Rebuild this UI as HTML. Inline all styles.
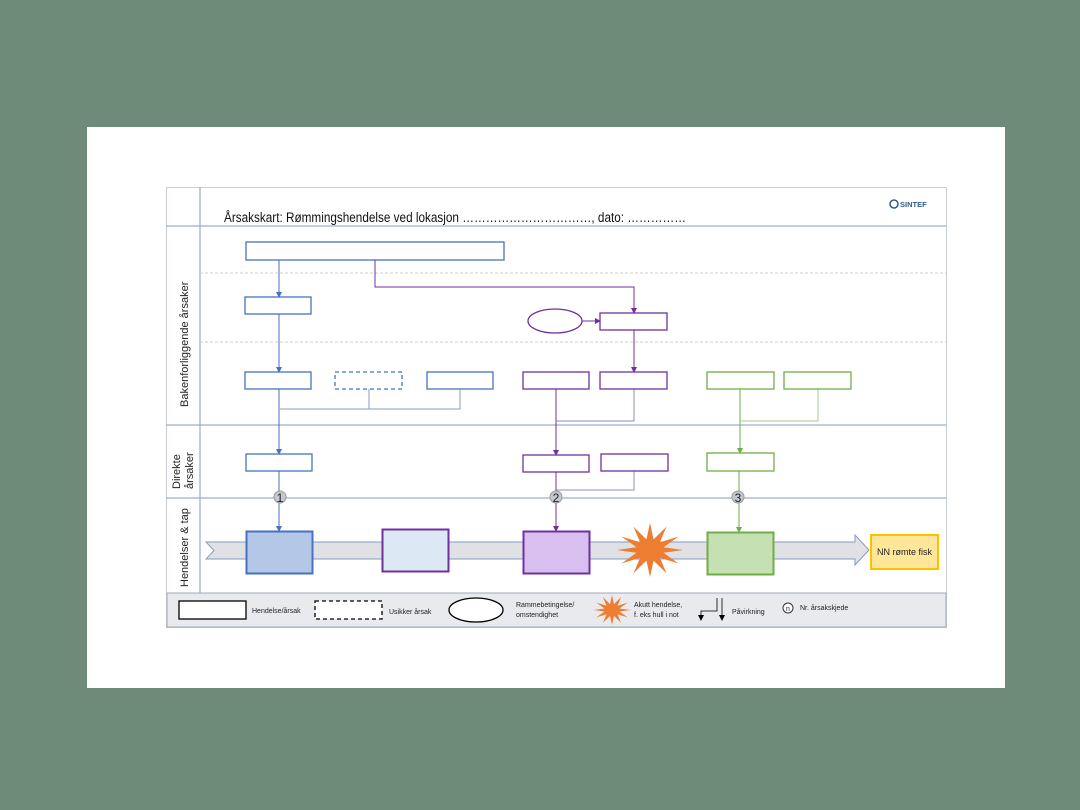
<!DOCTYPE html>
<html><head><meta charset="utf-8"><style>
html,body{margin:0;padding:0;background:#6e8b7a;}
svg{display:block;font-family:"Liberation Sans",sans-serif;}
</style></head><body>
<svg width="1080" height="810" viewBox="0 0 1080 810" xmlns="http://www.w3.org/2000/svg">
<defs>
<marker id="ab" markerWidth="6" markerHeight="6" refX="5" refY="3" orient="auto" markerUnits="userSpaceOnUse"><path d="M0,0 L6,3 L0,6z" fill="#4472c4"/></marker>
<marker id="ap" markerWidth="6" markerHeight="6" refX="5" refY="3" orient="auto" markerUnits="userSpaceOnUse"><path d="M0,0 L6,3 L0,6z" fill="#7030a0"/></marker>
<marker id="ag" markerWidth="6" markerHeight="6" refX="5" refY="3" orient="auto" markerUnits="userSpaceOnUse"><path d="M0,0 L6,3 L0,6z" fill="#70ad47"/></marker>
<marker id="ak" markerWidth="6" markerHeight="6" refX="5" refY="3" orient="auto" markerUnits="userSpaceOnUse"><path d="M0,0 L6,3 L0,6z" fill="#000"/></marker>
<g id="star"><polygon points="683,550 663.5,552.8 678.6,563.5 659.9,557.8 666.5,573.4 653.6,560.6 650,577 646.4,560.6 633.5,573.4 640.1,557.8 621.4,563.5 636.5,552.8 617,550 636.5,547.2 621.4,536.5 640.1,542.2 633.5,526.6 646.4,539.4 650,523 653.6,539.4 666.5,526.6 659.9,542.2 678.6,536.5 663.5,547.2" fill="#ed7d31"/></g>
</defs>
<rect x="87" y="127" width="918" height="561" fill="#fff"/>
<rect x="166.5" y="187.5" width="780" height="440" fill="#fff" stroke="#c8ccd4"/>
<line x1="200" y1="187" x2="200" y2="593" stroke="#8a9bc0"/>
<line x1="166" y1="226" x2="946" y2="226" stroke="#8a9bc0"/>
<line x1="200" y1="273" x2="946" y2="273" stroke="#c8ccd4" stroke-dasharray="3,2"/>
<line x1="200" y1="342" x2="946" y2="342" stroke="#c8ccd4" stroke-dasharray="3,2"/>
<line x1="166" y1="425" x2="946" y2="425" stroke="#8a9bc0"/>
<line x1="166" y1="498" x2="946" y2="498" stroke="#8a9bc0"/>
<text x="224" y="222" font-size="13.5" fill="#111" textLength="462" lengthAdjust="spacingAndGlyphs">Årsakskart: Rømmingshendelse ved lokasjon ……………………………, dato: ……………</text>
<circle cx="894" cy="204" r="4" fill="none" stroke="#2e5c8a" stroke-width="1.5"/>
<text x="900" y="207" font-size="7.5" font-weight="bold" fill="#2e5c8a">SINTEF</text>
<text transform="translate(188,407) rotate(-90)" font-size="11" fill="#222">Bakenforliggende årsaker</text>
<text transform="translate(180,489) rotate(-90)" font-size="11" fill="#222">Direkte</text>
<text transform="translate(193,489) rotate(-90)" font-size="11" fill="#222">årsaker</text>
<text transform="translate(188,587) rotate(-90)" font-size="11" fill="#222">Hendelser &amp; tap</text>
<polygon points="206,542 855,542 855,535 869,550 855,565 855,559 206,559 214,550.5" fill="#dfe1e5" stroke="#8a9bc0"/>
<g fill="#fff" stroke="#4472c4" stroke-width="1.3">
<rect x="246" y="242" width="258" height="18"/>
<rect x="245" y="297" width="66" height="17"/>
<rect x="245" y="372" width="66" height="17"/>
<rect x="335" y="372" width="67" height="17" stroke-dasharray="4,3"/>
<rect x="427" y="372" width="66" height="17"/>
<rect x="246" y="454" width="66" height="17"/>
</g>
<g stroke="#4472c4" fill="none" stroke-width="1">
<line x1="279" y1="260" x2="279" y2="297" marker-end="url(#ab)"/>
<line x1="279" y1="314" x2="279" y2="372" marker-end="url(#ab)"/>
<line x1="279" y1="389" x2="279" y2="454" marker-end="url(#ab)"/>
<polyline points="369,389 369,409 280,409" stroke="#8a9bc0"/>
<polyline points="460,389 460,409 369,409" stroke="#8a9bc0"/>
<line x1="279" y1="471" x2="279" y2="531" marker-end="url(#ab)"/>
</g>
<g stroke="#7030a0" fill="none" stroke-width="1">
<polyline points="375,260 375,287 634,287 634,313" marker-end="url(#ap)"/>
<line x1="582" y1="321" x2="600" y2="321" marker-end="url(#ap)"/>
<line x1="634" y1="330" x2="634" y2="372" marker-end="url(#ap)"/>
<line x1="556" y1="389" x2="556" y2="455" marker-end="url(#ap)"/>
<polyline points="634,389 634,421 556,421" stroke="#9a88b8"/>
<polyline points="634,471 634,490 556,490" stroke="#9a88b8"/>
<line x1="556" y1="472" x2="556" y2="531" marker-end="url(#ap)"/>
</g>
<g fill="#fff" stroke="#7030a0" stroke-width="1.3">
<ellipse cx="555" cy="321" rx="27" ry="12"/>
<rect x="600" y="313" width="67" height="17"/>
<rect x="523" y="372" width="66" height="17"/>
<rect x="600" y="372" width="67" height="17"/>
<rect x="523" y="455" width="66" height="17"/>
<rect x="601" y="454" width="67" height="17"/>
</g>
<g stroke="#70ad47" fill="none" stroke-width="1">
<line x1="740" y1="389" x2="740" y2="453" marker-end="url(#ag)"/>
<polyline points="818,389 818,421 740,421" stroke="#a9c98f"/>
<line x1="739" y1="471" x2="739" y2="532" marker-end="url(#ag)"/>
</g>
<g fill="#fff" stroke="#70ad47" stroke-width="1.3">
<rect x="707" y="372" width="67" height="17"/>
<rect x="784" y="372" width="67" height="17"/>
<rect x="707" y="453" width="67" height="18"/>
</g>
<g font-size="12" text-anchor="middle" fill="#222">
<circle cx="280" cy="497" r="6" fill="#c5c8cf" stroke="#999"/><text x="280" y="502">1</text>
<circle cx="556" cy="497" r="6" fill="#c5c8cf" stroke="#999"/><text x="556" y="502">2</text>
<circle cx="738" cy="497" r="6" fill="#c5c8cf" stroke="#999"/><text x="738" y="502">3</text>
</g>
<rect x="246.5" y="531.5" width="66" height="42" fill="#b4c7e7" stroke="#4472c4" stroke-width="2"/>
<rect x="382.5" y="529.5" width="66" height="42" fill="#dde8f5" stroke="#7030a0" stroke-width="2"/>
<rect x="523.5" y="531.5" width="66" height="42" fill="#d9bfef" stroke="#7030a0" stroke-width="2"/>
<use href="#star"/>
<rect x="707.5" y="532.5" width="66" height="42" fill="#c5e0b3" stroke="#70ad47" stroke-width="2"/>
<rect x="871" y="535" width="67" height="34" fill="#ffe699" stroke="#ffc000" stroke-width="2"/>
<text x="904.5" y="555" font-size="9" text-anchor="middle" fill="#222">NN rømte fisk</text>
<rect x="167" y="593" width="779" height="34" fill="#e8eaee" stroke="#a0a8b8"/>
<rect x="179" y="601" width="67" height="18" fill="#fff" stroke="#000" stroke-width="1.3"/>
<text x="252" y="613" font-size="7" fill="#222">Hendelse/årsak</text>
<rect x="315" y="601" width="67" height="18" fill="#fff" stroke="#000" stroke-width="1.3" stroke-dasharray="4,3"/>
<text x="389" y="614" font-size="7" fill="#222">Usikker årsak</text>
<ellipse cx="476" cy="610" rx="27" ry="12" fill="#fff" stroke="#000" stroke-width="1.3"/>
<text x="516" y="607" font-size="7" fill="#222">Rammebetingelse/</text>
<text x="516" y="617" font-size="7" fill="#222">omstendighet</text>
<use href="#star" transform="translate(612,610) scale(0.55) translate(-650,-550)"/>
<text x="634" y="607" font-size="7" fill="#222">Akutt hendelse,</text>
<text x="634" y="617" font-size="7" fill="#222">f. eks hull i not</text>
<g stroke="#000" fill="none" stroke-width="0.8">
<polyline points="717,598 717,611 701,611 701,620" marker-end="url(#ak)"/>
<line x1="722" y1="598" x2="722" y2="620" marker-end="url(#ak)"/>
</g>
<text x="732" y="614" font-size="7" fill="#222">Påvirkning</text>
<circle cx="788" cy="608" r="5" fill="#fff" stroke="#333"/>
<text x="788" y="611" font-size="7" text-anchor="middle" fill="#222">n</text>
<text x="800" y="610" font-size="7" fill="#222">Nr. årsakskjede</text>
</svg>
</body></html>
